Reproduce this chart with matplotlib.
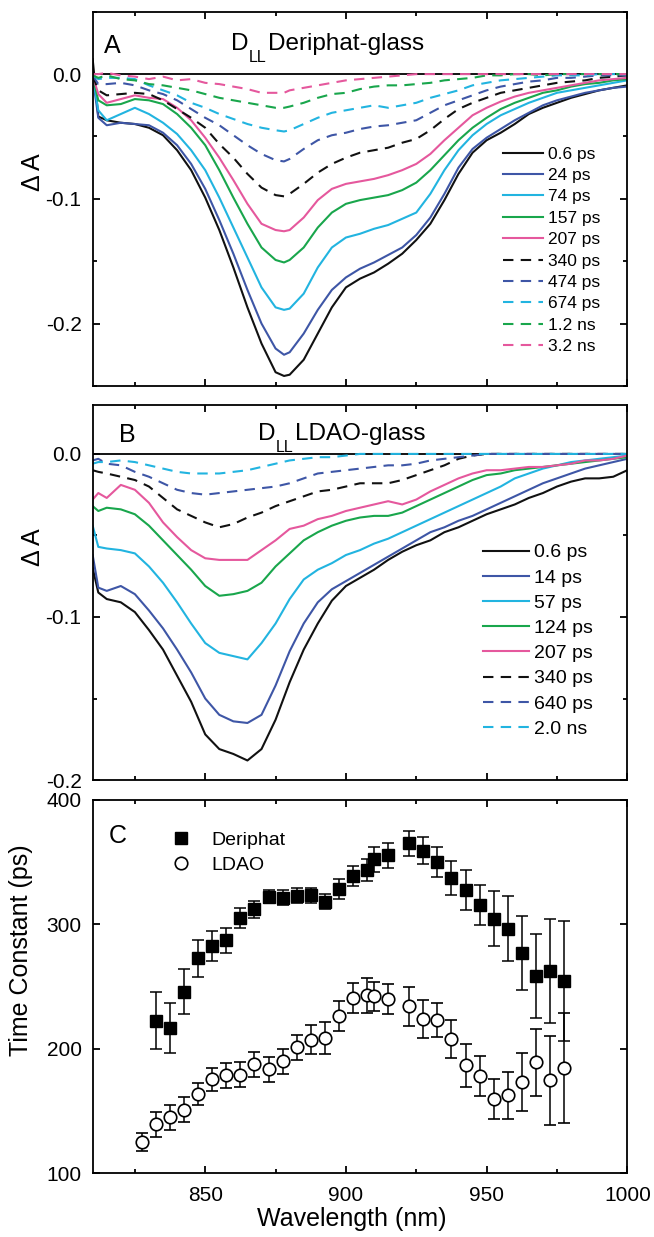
from __future__ import annotations

import matplotlib

matplotlib.use("Agg")
import matplotlib.pyplot as plt
from matplotlib.lines import Line2D
from matplotlib.ticker import MultipleLocator

OUTPUT_PLOT = "out.png"

# ---- panel A: D_LL in Deriphat glass, transient spectra ----
WL_A = [810, 812, 815, 820, 825, 830, 835, 840, 845, 850, 855, 860, 865, 870, 875, 878, 880,
        885, 890, 895, 900, 905, 910, 915, 920, 925, 930, 935, 940, 945, 950, 955, 960, 965,
        970, 975, 980, 985, 990, 995, 1000]

LABELS_A = ["0.6 ps", "24 ps", "74 ps", "157 ps", "207 ps",
            "340 ps", "474 ps", "674 ps", "1.2 ns", "3.2 ns"]

DA_A_06PS = [0.012, -0.034, -0.037, -0.039, -0.040, -0.043, -0.049, -0.061, -0.077, -0.099,
             -0.125, -0.155, -0.187, -0.216, -0.239, -0.242, -0.241, -0.229, -0.208, -0.187,
             -0.171, -0.164, -0.159, -0.152, -0.144, -0.133, -0.120, -0.101, -0.080, -0.063,
             -0.053, -0.047, -0.040, -0.032, -0.027, -0.023, -0.019, -0.016, -0.013, -0.011,
             -0.009]
DA_A_24PS = [-0.002, -0.035, -0.041, -0.039, -0.040, -0.041, -0.047, -0.057, -0.072, -0.092,
             -0.117, -0.144, -0.173, -0.200, -0.220, -0.225, -0.223, -0.208, -0.189, -0.173,
             -0.163, -0.156, -0.151, -0.145, -0.139, -0.129, -0.115, -0.096, -0.075, -0.060,
             -0.051, -0.044, -0.037, -0.031, -0.025, -0.021, -0.018, -0.015, -0.013, -0.011,
             -0.010]
DA_A_74PS = [-0.002, -0.029, -0.037, -0.032, -0.027, -0.032, -0.039, -0.048, -0.061, -0.077,
             -0.099, -0.123, -0.147, -0.171, -0.187, -0.189, -0.188, -0.176, -0.155, -0.139,
             -0.131, -0.128, -0.124, -0.121, -0.116, -0.111, -0.096, -0.077, -0.061, -0.049,
             -0.040, -0.033, -0.028, -0.023, -0.019, -0.015, -0.013, -0.011, -0.009, -0.007,
             -0.005]
DA_A_157PS = [-0.002, -0.021, -0.025, -0.024, -0.020, -0.021, -0.024, -0.032, -0.043, -0.057,
              -0.077, -0.099, -0.120, -0.139, -0.149, -0.151, -0.149, -0.139, -0.123, -0.111,
              -0.104, -0.101, -0.099, -0.097, -0.093, -0.087, -0.077, -0.065, -0.053, -0.043,
              -0.035, -0.028, -0.023, -0.019, -0.015, -0.013, -0.010, -0.008, -0.007, -0.005,
              -0.004]
DA_A_207PS = [-0.001, -0.016, -0.023, -0.020, -0.017, -0.019, -0.020, -0.027, -0.037, -0.051,
              -0.067, -0.085, -0.104, -0.120, -0.125, -0.126, -0.125, -0.115, -0.101, -0.092,
              -0.088, -0.086, -0.084, -0.081, -0.077, -0.072, -0.064, -0.053, -0.043, -0.033,
              -0.027, -0.022, -0.018, -0.015, -0.013, -0.011, -0.009, -0.007, -0.005, -0.004,
              -0.003]
DA_A_340PS = [-0.001, -0.013, -0.017, -0.016, -0.015, -0.016, -0.021, -0.028, -0.035, -0.043,
              -0.056, -0.067, -0.080, -0.091, -0.097, -0.098, -0.096, -0.088, -0.079, -0.072,
              -0.067, -0.063, -0.061, -0.059, -0.055, -0.052, -0.045, -0.036, -0.028, -0.023,
              -0.019, -0.015, -0.013, -0.011, -0.009, -0.007, -0.006, -0.005, -0.003, -0.002,
              -0.001]
DA_A_474PS = [-0.001, -0.008, -0.008, -0.007, -0.009, -0.013, -0.016, -0.021, -0.028, -0.035,
              -0.041, -0.049, -0.057, -0.064, -0.069, -0.070, -0.068, -0.060, -0.053, -0.049,
              -0.047, -0.044, -0.042, -0.041, -0.039, -0.037, -0.031, -0.025, -0.021, -0.017,
              -0.013, -0.010, -0.008, -0.006, -0.005, -0.003, -0.003, -0.002, -0.001, -0.001,
              -0.001]
DA_A_674PS = [-0.001, -0.004, -0.003, -0.003, -0.004, -0.009, -0.013, -0.017, -0.023, -0.027,
              -0.032, -0.036, -0.040, -0.043, -0.045, -0.046, -0.045, -0.040, -0.035, -0.031,
              -0.029, -0.027, -0.025, -0.027, -0.025, -0.023, -0.019, -0.016, -0.013, -0.009,
              -0.007, -0.005, -0.004, -0.003, -0.002, -0.001, -0.001, -0.001, 0.000, 0.000,
              0.000]
DA_A_12NS = [-0.001, -0.003, -0.001, -0.004, -0.005, -0.008, -0.009, -0.011, -0.013, -0.016,
             -0.019, -0.021, -0.023, -0.025, -0.027, -0.027, -0.026, -0.023, -0.019, -0.016,
             -0.015, -0.012, -0.010, -0.009, -0.009, -0.008, -0.007, -0.005, -0.004, -0.003,
             -0.001, -0.001, 0.000, 0.000, -0.001, 0.000, 0.000, 0.000, 0.000, 0.000,
             0.000]
DA_A_32NS = [0.000, 0.000, 0.001, -0.001, -0.002, -0.004, -0.002, -0.005, -0.004, -0.007,
             -0.008, -0.010, -0.012, -0.015, -0.015, -0.015, -0.013, -0.011, -0.009, -0.007,
             -0.005, -0.004, -0.003, -0.002, -0.001, 0.000, 0.000, 0.000, 0.000, 0.000,
             0.000, 0.000, 0.000, 0.000, 0.000, 0.000, 0.000, 0.000, 0.000, 0.000,
             0.000]

# ---- panel B: D_LL in LDAO glass ----
WL_B = [810, 812, 815, 820, 825, 830, 835, 840, 845, 850, 855, 860, 865, 870, 875, 880, 885,
        890, 895, 900, 905, 910, 915, 920, 925, 930, 935, 940, 945, 950, 955, 960, 965, 970,
        975, 980, 985, 990, 995, 1000]

LABELS_B = ["0.6 ps", "14 ps", "57 ps", "124 ps", "207 ps", "340 ps", "640 ps", "2.0 ns"]

DA_B_06PS = [-0.070, -0.085, -0.089, -0.091, -0.097, -0.108, -0.120, -0.136, -0.152, -0.172,
             -0.181, -0.184, -0.188, -0.181, -0.163, -0.140, -0.120, -0.104, -0.090, -0.081,
             -0.076, -0.071, -0.065, -0.060, -0.056, -0.053, -0.048, -0.045, -0.041, -0.037,
             -0.034, -0.031, -0.027, -0.024, -0.020, -0.017, -0.015, -0.015, -0.014, -0.010]
DA_B_14PS = [-0.062, -0.082, -0.084, -0.081, -0.086, -0.096, -0.107, -0.120, -0.134, -0.150,
             -0.160, -0.164, -0.165, -0.160, -0.142, -0.121, -0.104, -0.091, -0.083, -0.078,
             -0.073, -0.068, -0.063, -0.058, -0.053, -0.048, -0.045, -0.041, -0.038, -0.034,
             -0.030, -0.026, -0.022, -0.018, -0.015, -0.012, -0.009, -0.007, -0.005, -0.003]
DA_B_57PS = [-0.044, -0.057, -0.058, -0.059, -0.061, -0.069, -0.079, -0.091, -0.104, -0.116,
             -0.122, -0.124, -0.126, -0.116, -0.104, -0.089, -0.077, -0.071, -0.067, -0.062,
             -0.059, -0.055, -0.052, -0.048, -0.044, -0.040, -0.036, -0.032, -0.028, -0.024,
             -0.020, -0.015, -0.012, -0.009, -0.007, -0.005, -0.004, -0.003, -0.002, -0.001]
DA_B_124PS = [-0.032, -0.035, -0.033, -0.034, -0.037, -0.044, -0.053, -0.062, -0.071, -0.081,
              -0.087, -0.086, -0.084, -0.079, -0.069, -0.061, -0.053, -0.048, -0.044, -0.041,
              -0.039, -0.038, -0.038, -0.036, -0.032, -0.028, -0.024, -0.020, -0.016, -0.013,
              -0.012, -0.010, -0.009, -0.008, -0.007, -0.006, -0.005, -0.004, -0.003, -0.002]
DA_B_207PS = [-0.028, -0.024, -0.027, -0.019, -0.022, -0.030, -0.042, -0.051, -0.059, -0.064,
              -0.065, -0.065, -0.065, -0.059, -0.053, -0.046, -0.044, -0.040, -0.038, -0.035,
              -0.033, -0.031, -0.029, -0.031, -0.028, -0.023, -0.019, -0.015, -0.012, -0.010,
              -0.010, -0.009, -0.008, -0.008, -0.007, -0.006, -0.004, -0.004, -0.003, -0.001]
DA_B_340PS = [-0.010, -0.011, -0.012, -0.014, -0.016, -0.020, -0.027, -0.034, -0.038, -0.042,
              -0.045, -0.043, -0.039, -0.036, -0.032, -0.029, -0.026, -0.023, -0.022, -0.020,
              -0.018, -0.018, -0.018, -0.016, -0.013, -0.010, -0.007, -0.003, -0.001, 0.000,
              0.000, 0.000, 0.000, 0.000, 0.000, 0.000, 0.000, 0.000, 0.000, 0.000]
DA_B_640PS = [-0.004, -0.003, -0.006, -0.007, -0.011, -0.014, -0.018, -0.022, -0.024, -0.025,
              -0.024, -0.023, -0.022, -0.021, -0.020, -0.018, -0.015, -0.012, -0.011, -0.010,
              -0.009, -0.008, -0.007, -0.007, -0.006, -0.004, -0.003, -0.002, -0.001, 0.000,
              0.000, 0.000, 0.000, 0.000, 0.000, 0.000, 0.000, 0.000, 0.000, 0.000]
DA_B_20NS = [-0.006, -0.005, -0.005, -0.004, -0.005, -0.007, -0.009, -0.011, -0.012, -0.012,
             -0.012, -0.011, -0.010, -0.008, -0.006, -0.004, -0.003, -0.002, -0.002, -0.001,
             0.000, 0.000, 0.000, 0.000, 0.000, 0.000, 0.000, 0.000, 0.000, 0.000,
             0.000, 0.000, 0.000, 0.000, 0.000, 0.000, 0.000, 0.000, 0.000, 0.000]

# ---- panel C: fitted time constants ----
WL_DERIPHAT = [832.5, 837.5, 842.5, 847.5, 852.5, 857.5, 862.5, 867.5, 872.5, 877.5, 882.5,
               887.5, 892.5, 897.5, 902.5, 907.5, 910, 915, 922.5, 927.5, 932.5, 937.5,
               942.5, 947.5, 952.5, 957.5, 962.5, 967.5, 972.5, 977.5]
TAU_DERIPHAT = [222.7, 216.5, 246.0, 272.8, 282.4, 287.2, 305.3, 312.0, 322.4, 321.3, 323.2,
                323.5, 318.4, 328.5, 339.0, 343.7, 352.5, 355.7, 365.3, 359.2, 349.9, 337.3,
                327.5, 315.7, 304.5, 296.5, 277.1, 258.4, 262.7, 254.4]
ERR_DERIPHAT = [23, 20, 18, 15, 12, 10, 8, 7, 5, 6, 6, 6, 6, 8, 8, 9, 10, 10, 10, 11, 12, 14,
                16, 16, 22, 26, 30, 34, 42, 48]

WL_LDAO = [827.5, 832.5, 837.5, 842.5, 847.5, 852.5, 857.5, 862.5, 867.5, 872.5, 877.5, 882.5,
           887.5, 892.5, 897.5, 902.5, 907.5, 910, 915, 922.5, 927.5, 932.5, 937.5, 942.5,
           947.5, 952.5, 957.5, 962.5, 967.5, 972.5, 977.5]
TAU_LDAO = [125.3, 139.5, 145.1, 151.2, 163.7, 175.5, 178.7, 179.2, 187.5, 183.5, 190.1, 201.1,
            207.5, 208.5, 226.4, 240.8, 242.9, 242.1, 240.0, 234.1, 224.0, 223.2, 208.0, 186.7,
            178.1, 160.0, 162.7, 173.3, 189.3, 174.7, 184.5]
ERR_LDAO = [7, 10, 10, 10, 9, 9, 10, 10, 10, 10, 10, 10, 12, 13, 12, 12, 14, 12, 12, 16, 15, 14,
            15, 17, 16, 16, 19, 23, 27, 36, 44]

# styles
BLACK = "#111111"
BLUE = "#3e56a6"
CYAN = "#22b4e0"
GREEN = "#19a64c"
PINK = "#e5589d"
COLORS_A = [BLACK, BLUE, CYAN, GREEN, PINK, BLACK, BLUE, CYAN, GREEN, PINK]
COLORS_B = [BLACK, BLUE, CYAN, GREEN, PINK, BLACK, BLUE, CYAN]
DASH = (0, (5, 3.5))
LW = 1.5
SPINE_W = 1.3


def configure_fonts() -> None:
    plt.rcParams["font.family"] = ["Liberation Sans", "DejaVu Sans"]
    plt.rcParams["axes.unicode_minus"] = False
    plt.rcParams["axes.linewidth"] = SPINE_W


def style_axis(ax, show_xlabels: bool) -> None:
    ax.set_xlim(810, 1000)
    ax.xaxis.set_major_locator(MultipleLocator(50))
    ax.xaxis.set_minor_locator(MultipleLocator(25))
    ax.tick_params(which="both", direction="in", top=True, right=True,
                   width=SPINE_W, labelsize=15)
    ax.tick_params(which="major", length=5)
    ax.tick_params(which="minor", length=3)
    ax.tick_params(axis="y", pad=8)
    ax.tick_params(axis="x", pad=9, labelbottom=show_xlabels)


def add_title(ax, x, y, rest: str) -> None:
    # "D" with a dropped "LL" subscript, then the sample name
    t_d = ax.text(x, y, "D", transform=ax.transAxes, fontsize=17.5, va="baseline")
    t_ll = ax.annotate("LL", xy=(1.0, 0.225), xycoords=t_d, xytext=(0.5, 0),
                       textcoords="offset points", fontsize=11.5, va="top", ha="left")
    ax.annotate(rest, xy=(1.0, 0.0), xycoords=(t_ll, t_d), xytext=(0.8, 0),
                textcoords="offset points", fontsize=17.5, va="bottom", ha="left")


def draw_spectra(ax, wl, series, labels, colors) -> None:
    ax.axhline(0.0, color="black", lw=SPINE_W, zorder=1.5)
    for i, (vals, lab, col) in enumerate(zip(series, labels, colors)):
        ls = "-" if i < 5 else DASH
        ax.plot(wl, vals, color=col, lw=LW, linestyle=ls, label=lab)


def main() -> None:
    configure_fonts()
    fig = plt.figure(figsize=(6.54, 12.37), dpi=100)

    ax_a = fig.add_axes([0.1417, 0.6880, 0.8175, 0.3025])
    ax_b = fig.add_axes([0.1417, 0.3694, 0.8175, 0.3032])
    ax_c = fig.add_axes([0.1417, 0.0515, 0.8175, 0.3018])

    # panel A
    series_a = [DA_A_06PS, DA_A_24PS, DA_A_74PS, DA_A_157PS, DA_A_207PS,
                DA_A_340PS, DA_A_474PS, DA_A_674PS, DA_A_12NS, DA_A_32NS]
    draw_spectra(ax_a, WL_A, series_a, LABELS_A, COLORS_A)
    ax_a.set_ylim(-0.25, 0.05)
    ax_a.set_yticks([-0.2, -0.1, 0.0])
    ax_a.set_yticklabels(["-0.2", "-0.1", "0.0"])
    ax_a.yaxis.set_minor_locator(MultipleLocator(0.05))
    style_axis(ax_a, show_xlabels=False)
    ax_a.set_ylabel("Δ A", fontsize=18)
    ax_a.yaxis.set_label_coords(-0.089, 0.572)
    ax_a.text(0.021, 0.889, "A", transform=ax_a.transAxes, fontsize=18, va="baseline")
    add_title(ax_a, 0.2587, 0.8977, "Deriphat-glass")
    ax_a.legend(loc="upper left", bbox_to_anchor=(0.767, 0.640), frameon=False, fontsize=12.5,
                handlelength=2.3, handletextpad=0.3, labelspacing=0.36,
                borderpad=0, borderaxespad=0)

    # panel B
    series_b = [DA_B_06PS, DA_B_14PS, DA_B_57PS, DA_B_124PS, DA_B_207PS,
                DA_B_340PS, DA_B_640PS, DA_B_20NS]
    draw_spectra(ax_b, WL_B, series_b, LABELS_B, COLORS_B)
    ax_b.set_ylim(-0.2, 0.03)
    ax_b.set_yticks([-0.2, -0.1, 0.0])
    ax_b.set_yticklabels(["-0.2", "-0.1", "0.0"])
    ax_b.yaxis.set_minor_locator(MultipleLocator(0.05))
    style_axis(ax_b, show_xlabels=False)
    ax_b.set_ylabel("Δ A", fontsize=18)
    ax_b.yaxis.set_label_coords(-0.089, 0.622)
    ax_b.text(0.049, 0.902, "B", transform=ax_b.transAxes, fontsize=18, va="baseline")
    add_title(ax_b, 0.3092, 0.9067, "LDAO-glass")
    ax_b.legend(loc="upper left", bbox_to_anchor=(0.730, 0.630), frameon=False, fontsize=14,
                handlelength=2.35, handletextpad=0.3, labelspacing=0.39,
                borderpad=0, borderaxespad=0)

    # panel C
    ax_c.errorbar(WL_DERIPHAT, TAU_DERIPHAT, yerr=ERR_DERIPHAT, fmt="s", color="black",
                  ms=8.5, elinewidth=1.1, capsize=4, capthick=1.1, zorder=3)
    ax_c.errorbar(WL_LDAO, TAU_LDAO, yerr=ERR_LDAO, fmt="o", color="black", mfc="white",
                  mec="black", mew=1.2, ms=9, elinewidth=1.1, capsize=4, capthick=1.1,
                  zorder=3)
    ax_c.set_ylim(100, 400)
    ax_c.set_yticks([100, 200, 300, 400])
    style_axis(ax_c, show_xlabels=True)
    ax_c.set_ylabel("Time Constant (ps)", fontsize=18)
    ax_c.yaxis.set_label_coords(-0.111, 0.598)
    ax_c.set_xlabel("Wavelength (nm)", fontsize=18)
    ax_c.xaxis.set_label_coords(0.484, -0.090)
    ax_c.text(0.030, 0.884, "C", transform=ax_c.transAxes, fontsize=18, va="baseline")
    handles = [
        Line2D([], [], marker="s", ls="none", color="black", ms=8.5),
        Line2D([], [], marker="o", ls="none", color="black", mfc="white", mew=1.2, ms=9),
    ]
    ax_c.legend(handles, ["Deriphat", "LDAO"], loc="upper left", bbox_to_anchor=(0.147, 0.916),
                frameon=False, fontsize=14, handlelength=1.0, handletextpad=1.08,
                labelspacing=0.37, borderpad=0, borderaxespad=0, numpoints=1)

    fig.savefig(OUTPUT_PLOT, dpi=100)
    plt.close(fig)


if __name__ == "__main__":
    main()
